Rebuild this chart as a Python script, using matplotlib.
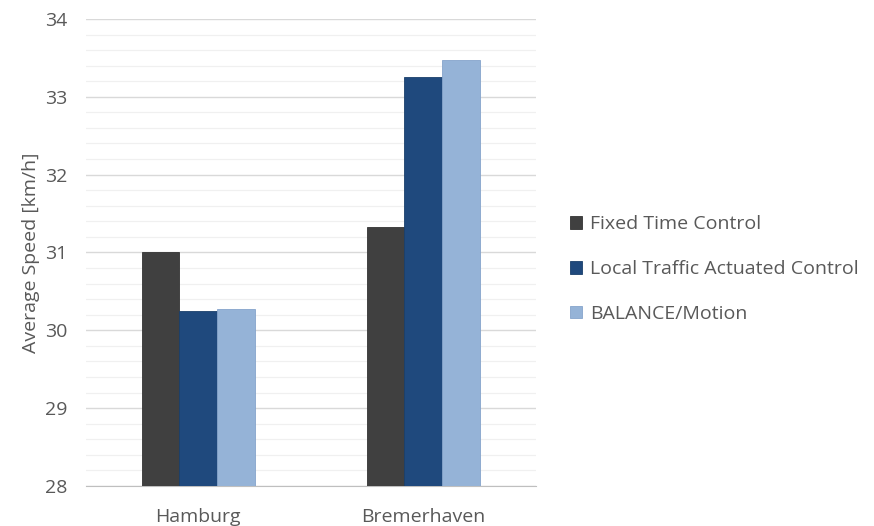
import matplotlib

matplotlib.use("Agg")
import matplotlib.pyplot as plt
import numpy as np

cities = ["Hamburg", "Bremerhaven"]
series = ["Fixed Time Control", "Local Traffic Actuated Control", "BALANCE/Motion"]
fixed_time = [31.01, 31.33]
local_actuated = [30.25, 33.26]
balance_motion = [30.27, 33.47]

COLORS = ["#404040", "#1F497D", "#95B3D7"]
EDGES = ["#333333", "#1A3F6B", "#86A4CB"]
TEXT = "#595959"

plt.rcParams["font.family"] = ["Open Sans", "DejaVu Sans"]

fig = plt.figure(figsize=(8.74, 5.26), dpi=100)
ax = fig.add_axes([0.098, 0.076, 0.515, 0.888])

x = np.arange(len(cities))
width = 0.167
for i, (vals, name) in enumerate(zip([fixed_time, local_actuated, balance_motion], series)):
    ax.bar(x + (i - 1) * width, np.array(vals) - 28, width, bottom=28, color=COLORS[i],
           edgecolor=EDGES[i], linewidth=0.6, label=name, zorder=3)

ax.set_xlim(-0.5, 1.5)
ax.set_ylim(28, 34)
ax.set_yticks(np.arange(28, 34.1, 1))
ax.set_yticks(np.arange(28, 34.01, 0.2), minor=True)
ax.yaxis.grid(True, which="major", color="#D9D9D9", linewidth=1.0, zorder=0)
ax.yaxis.grid(True, which="minor", color="#F0F0F0", linewidth=0.9, zorder=0)
ax.set_xticks(x)
ax.set_xticklabels(cities)
ax.tick_params(axis="both", which="both", length=0, colors=TEXT, labelsize=14)
ax.tick_params(axis="x", pad=16)
ax.tick_params(axis="y", pad=13)
for side in ["top", "right", "left"]:
    ax.spines[side].set_visible(False)
ax.spines["bottom"].set_color("#BFBFBF")
ax.set_ylabel("Average Speed [km/h]", color=TEXT, fontsize=14, labelpad=4)

leg = fig.legend(loc="center left", bbox_to_anchor=(0.632, 0.488), frameon=False,
                 fontsize=14, handlelength=0.6, handleheight=0.6, handletextpad=0.45,
                 labelspacing=1.38)
for t in leg.get_texts():
    t.set_color(TEXT)

plt.savefig("out.png", dpi=100)
